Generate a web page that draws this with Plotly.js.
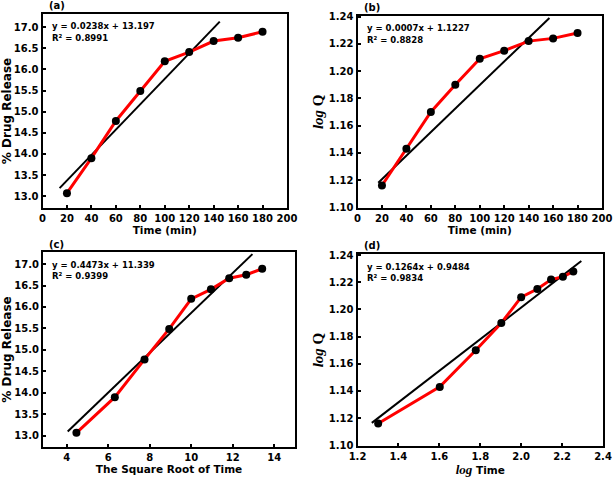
<!DOCTYPE html>
<html>
<head>
<meta charset="utf-8">
<script src="https://cdn.plot.ly/plotly-3.0.1.min.js"></script>
<style>html,body{margin:0;padding:0;background:#fff;}#chart{width:614px;height:478px;}</style>
</head>
<body>
<div id="chart"></div>
<script>
// Data
const timeMin = [20, 40, 60, 80, 100, 120, 140, 160, 180];
const drugRelease = [13.07, 13.90, 14.78, 15.49, 16.19, 16.41, 16.67, 16.75, 16.89];
const logQ = [1.116, 1.143, 1.170, 1.190, 1.209, 1.215, 1.222, 1.224, 1.228];
const sqrtTime = [4.47, 6.32, 7.75, 8.94, 10.0, 10.95, 11.83, 12.65, 13.42];
const logTime = [1.301, 1.602, 1.778, 1.903, 2.000, 2.079, 2.146, 2.204, 2.255];

// Fitted (trend) line endpoints as drawn in the reference
const fitAX = [14, 145], fitAY = [13.19, 17.13];
const fitBX = [17, 157], fitBY = [1.118, 1.239];
const fitCX = [4.05, 12.95], fitCY = [13.10, 17.23];
const fitDX = [1.27, 2.294], fitDY = [1.1165, 1.2356];

const eqA = ['y = 0.0238x + 13.197', 'R² = 0.8991'];
const eqB = ['y = 0.0007x + 1.1227', 'R² = 0.8828'];
const eqC = ['y = 0.4473x + 11.339', 'R² = 0.9399'];
const eqD = ['y = 0.1264x + 0.9484', 'R² = 0.9834'];
const panelLabels = ['(a)', '(b)', '(c)', '(d)'];

const W = 614, H = 478;
const sans = 'DejaVu Sans, Verdana, sans-serif';
const serif = 'Liberation Serif, Times New Roman, serif';

function px(x){ return x / W; }
function py(y){ return 1 - y / H; }

const panels = [
  {x: timeMin, y: drugRelease, fx: fitAX, fy: fitAY, eq: eqA, lab: panelLabels[0],
   dom: [42.5, 287, 14, 208]},
  {x: timeMin, y: logQ, fx: fitBX, fy: fitBY, eq: eqB, lab: panelLabels[1],
   dom: [357.5, 602, 15.5, 208]},
  {x: sqrtTime, y: drugRelease, fx: fitCX, fy: fitCY, eq: eqC, lab: panelLabels[2],
   dom: [43, 295, 252, 447]},
  {x: logTime, y: logQ, fx: fitDX, fy: fitDY, eq: eqD, lab: panelLabels[3],
   dom: [357.5, 603, 254, 446]}
];

const data = [];
const annotations = [];
const layout = {
  width: W, height: H,
  margin: {l: 0, r: 0, t: 0, b: 0},
  paper_bgcolor: '#fff', plot_bgcolor: '#fff',
  showlegend: false,
  font: {family: sans, color: '#000', size: 10}
};

const tickFont = {family: sans, size: 10, color: '#000', weight: 'bold'};
const xTitleFont = {family: sans, size: 10.5, color: '#000', weight: 'bold'};
const yTitleFont = {family: sans, size: 12, color: '#000', weight: 'bold'};
const logTitleFont = {family: serif, size: 15, color: '#000', weight: 'bold'};

function axisBase(){
  return {
    showline: true, linewidth: 2, linecolor: '#000', mirror: true,
    ticks: 'inside', ticklen: 3, tickwidth: 2, tickcolor: '#000',
    showgrid: false, zeroline: false, tickfont: tickFont
  };
}

const xTitles = [
  'Time (min)', 'Time (min)', 'The Square Root of Time',
  '<span style="font-family:Liberation Serif;font-style:italic;font-weight:bold;font-size:13px">log</span> Time'
];
const yTitles = [
  '% Drug Release',
  '<i>log</i> Q',
  '% Drug Release',
  '<i>log</i> Q'
];
const xRanges = [[0, 200], [0, 200], [2.86, 15.0], [1.2, 2.4]];
const xTicks = [
  {tick0: 0, dtick: 20, tickformat: 'd'},
  {tick0: 0, dtick: 20, tickformat: 'd'},
  {tick0: 0, dtick: 2, tickformat: 'd'},
  {tick0: 1.2, dtick: 0.2, tickformat: '.1f'}
];
const yRanges = [[12.72, 17.31], [1.0995, 1.2408], [12.74, 17.28], [1.0995, 1.2408]];
const yTicks = [
  {tick0: 13, dtick: 0.5, tickformat: '.1f'},
  {tick0: 1.10, dtick: 0.02, tickformat: '.2f'},
  {tick0: 13, dtick: 0.5, tickformat: '.1f'},
  {tick0: 1.10, dtick: 0.02, tickformat: '.2f'}
];

panels.forEach((p, i) => {
  const n = i === 0 ? '' : String(i + 1);
  const xa = 'x' + n, ya = 'y' + n;
  const [l, r, t, b] = p.dom;

  const xaxis = Object.assign(axisBase(), {
    domain: [px(l), px(r)], anchor: ya, range: xRanges[i], tickmode: 'linear'
  }, xTicks[i]);
  xaxis.title = {text: xTitles[i], font: xTitleFont, standoff: 3};
  const yaxis = Object.assign(axisBase(), {
    domain: [py(b), py(t)], anchor: xa, range: yRanges[i], tickmode: 'linear'
  }, yTicks[i]);
  const isLog = (i === 1 || i === 3);
  yaxis.title = {text: yTitles[i], standoff: 2, font: isLog ? logTitleFont : yTitleFont};
  layout['xaxis' + n] = xaxis;
  layout['yaxis' + n] = yaxis;

  data.push({
    type: 'scatter', mode: 'lines', x: p.fx, y: p.fy, xaxis: xa, yaxis: ya,
    line: {color: '#000', width: 2}, hoverinfo: 'skip', cliponaxis: true
  });
  data.push({
    type: 'scatter', mode: 'lines+markers', x: p.x, y: p.y, xaxis: xa, yaxis: ya,
    line: {color: '#ff0000', width: 3},
    marker: {color: '#000', size: 8}, cliponaxis: false
  });

  annotations.push({
    xref: 'paper', yref: 'paper', x: px(l + 7), y: py(t + 12.5),
    xanchor: 'left', yanchor: 'middle', showarrow: false,
    text: p.eq[0], font: {family: sans, size: 8.5, color: '#000', weight: 'bold'}
  });
  annotations.push({
    xref: 'paper', yref: 'paper', x: px(l + 7), y: py(t + 24),
    xanchor: 'left', yanchor: 'middle', showarrow: false,
    text: p.eq[1], font: {family: sans, size: 8.5, color: '#000', weight: 'bold'}
  });
  annotations.push({
    xref: 'paper', yref: 'paper', x: px(l + 4), y: py(t - 8),
    xanchor: 'left', yanchor: 'middle', showarrow: false,
    text: p.lab, font: {family: sans, size: 10, color: '#000', weight: 'bold'}
  });
});

layout.annotations = annotations;

Plotly.newPlot('chart', data, layout, {displayModeBar: false, staticPlot: true});
</script>
</body>
</html>
